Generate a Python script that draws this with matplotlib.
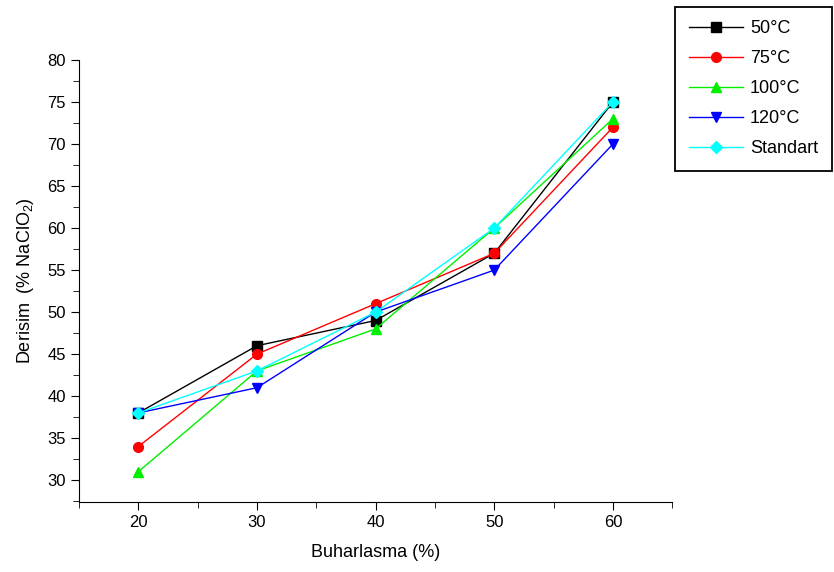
import matplotlib
matplotlib.use("Agg")
import matplotlib.pyplot as plt
from matplotlib.ticker import MultipleLocator

plt.rcParams["font.family"] = ["Liberation Sans", "DejaVu Sans"]
plt.rcParams["mathtext.fontset"] = "custom"
plt.rcParams["mathtext.rm"] = "Liberation Sans"

evap = [20, 30, 40, 50, 60]
c50 = [38, 46, 49, 57, 75]
c75 = [34, 45, 51, 57, 72]
c100 = [31, 43, 48, 60, 73]
c120 = [38, 41, 50, 55, 70]
standart = [38, 43, 50, 60, 75]

series = [
    ("50°C", c50, "black", "s"),
    ("75°C", c75, "red", "o"),
    ("100°C", c100, "#00ee00", "^"),
    ("120°C", c120, "blue", "v"),
    ("Standart", standart, "cyan", "D"),
]

fig = plt.figure(figsize=(8.34, 5.72), dpi=100)
ax = fig.add_axes([0.0947, 0.1224, 0.7113, 0.7726])

for label, vals, col, mk in series:
    ms = 7 if mk != "D" else 6.5
    ax.plot(evap, vals, color=col, marker=mk, markersize=ms, linewidth=1,
            label=label)

ax.set_xlim(15, 65)
ax.set_ylim(27.4, 80)
ax.xaxis.set_major_locator(MultipleLocator(10))
ax.xaxis.set_minor_locator(MultipleLocator(5))
ax.yaxis.set_major_locator(MultipleLocator(5))
ax.yaxis.set_minor_locator(MultipleLocator(2.5))
ax.set_xticks([20, 30, 40, 50, 60])
ax.tick_params(which="major", direction="out", length=6, labelsize=12)
ax.tick_params(which="minor", direction="out", length=4)
for s in ("top", "right"):
    ax.spines[s].set_visible(False)

ax.set_xlabel("Buharlasma (%)", fontsize=13, labelpad=10)
ax.set_ylabel("Derisim  (% NaClO$_{2}$)", fontsize=13, labelpad=8)

leg = fig.legend(loc="upper right", bbox_to_anchor=(1.008, 1.004), fontsize=13,
                 fancybox=False, edgecolor="black", framealpha=1,
                 handlelength=3.0, handletextpad=0.4, borderpad=0.75,
                 labelspacing=0.72)
leg.get_frame().set_linewidth(1.3)

fig.savefig("out.png", dpi=100)
